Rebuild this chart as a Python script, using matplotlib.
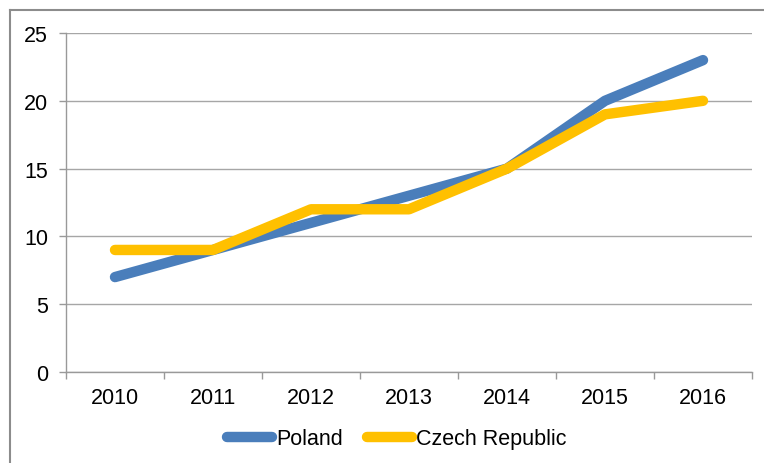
import matplotlib.pyplot as plt
from matplotlib.lines import Line2D

plt.rcParams['font.family'] = ['Liberation Sans', 'DejaVu Sans']

years = ['2010', '2011', '2012', '2013', '2014', '2015', '2016']
poland = [7, 9, 11, 13, 15, 20, 23]
czech = [9, 9, 12, 12, 15, 19, 20]

fig = plt.figure(figsize=(7.64, 4.64), dpi=100)
ax = fig.add_axes([66 / 764, 1 - 373 / 464, 686 / 764, 339 / 464])

x = range(len(years))
ax.plot(x, poland, color='#4A7EBB', lw=7.5, solid_capstyle='round', solid_joinstyle='round', label='Poland', zorder=3)
ax.plot(x, czech, color='#FFC000', lw=7.5, solid_capstyle='round', solid_joinstyle='round', label='Czech Republic', zorder=4)

ax.set_xlim(-0.5, len(years) - 0.5)
ax.set_ylim(0, 25)
ax.set_yticks(range(0, 26, 5))
ax.set_xticks(x)
ax.set_xticklabels(years)
ax.set_xticks([i - 0.5 for i in range(len(years) + 1)], minor=True)
ax.tick_params(axis='x', which='major', length=0, pad=11, labelsize=15.5)
ax.tick_params(axis='x', which='minor', length=5, color='#999999', width=1)
ax.tick_params(axis='y', length=5, color='#999999', width=1, labelsize=15.5, pad=8)
ax.grid(axis='y', color='#a6a6a6', lw=1)
ax.set_axisbelow(True)
for s in ['top', 'right']:
    ax.spines[s].set_visible(False)
for s in ['left', 'bottom']:
    ax.spines[s].set_color('#999999')
    ax.spines[s].set_linewidth(1)

ax.legend(loc='center', bbox_to_anchor=(397 / 764, 1 - 440 / 464), bbox_transform=fig.transFigure,
          ncol=2, frameon=False, fontsize=15.5, handlelength=2.1, handletextpad=0.2, columnspacing=1.1)

# outer chart border (left and top visible in crop)
fig.add_artist(Line2D([10 / 764, 10 / 764], [0, 1 - 11 / 464], color='#8c8c8c', lw=1.5))
fig.add_artist(Line2D([10 / 764, 1], [1 - 11 / 464, 1 - 11 / 464], color='#8c8c8c', lw=1.5))

fig.savefig('out.png', dpi=100)
